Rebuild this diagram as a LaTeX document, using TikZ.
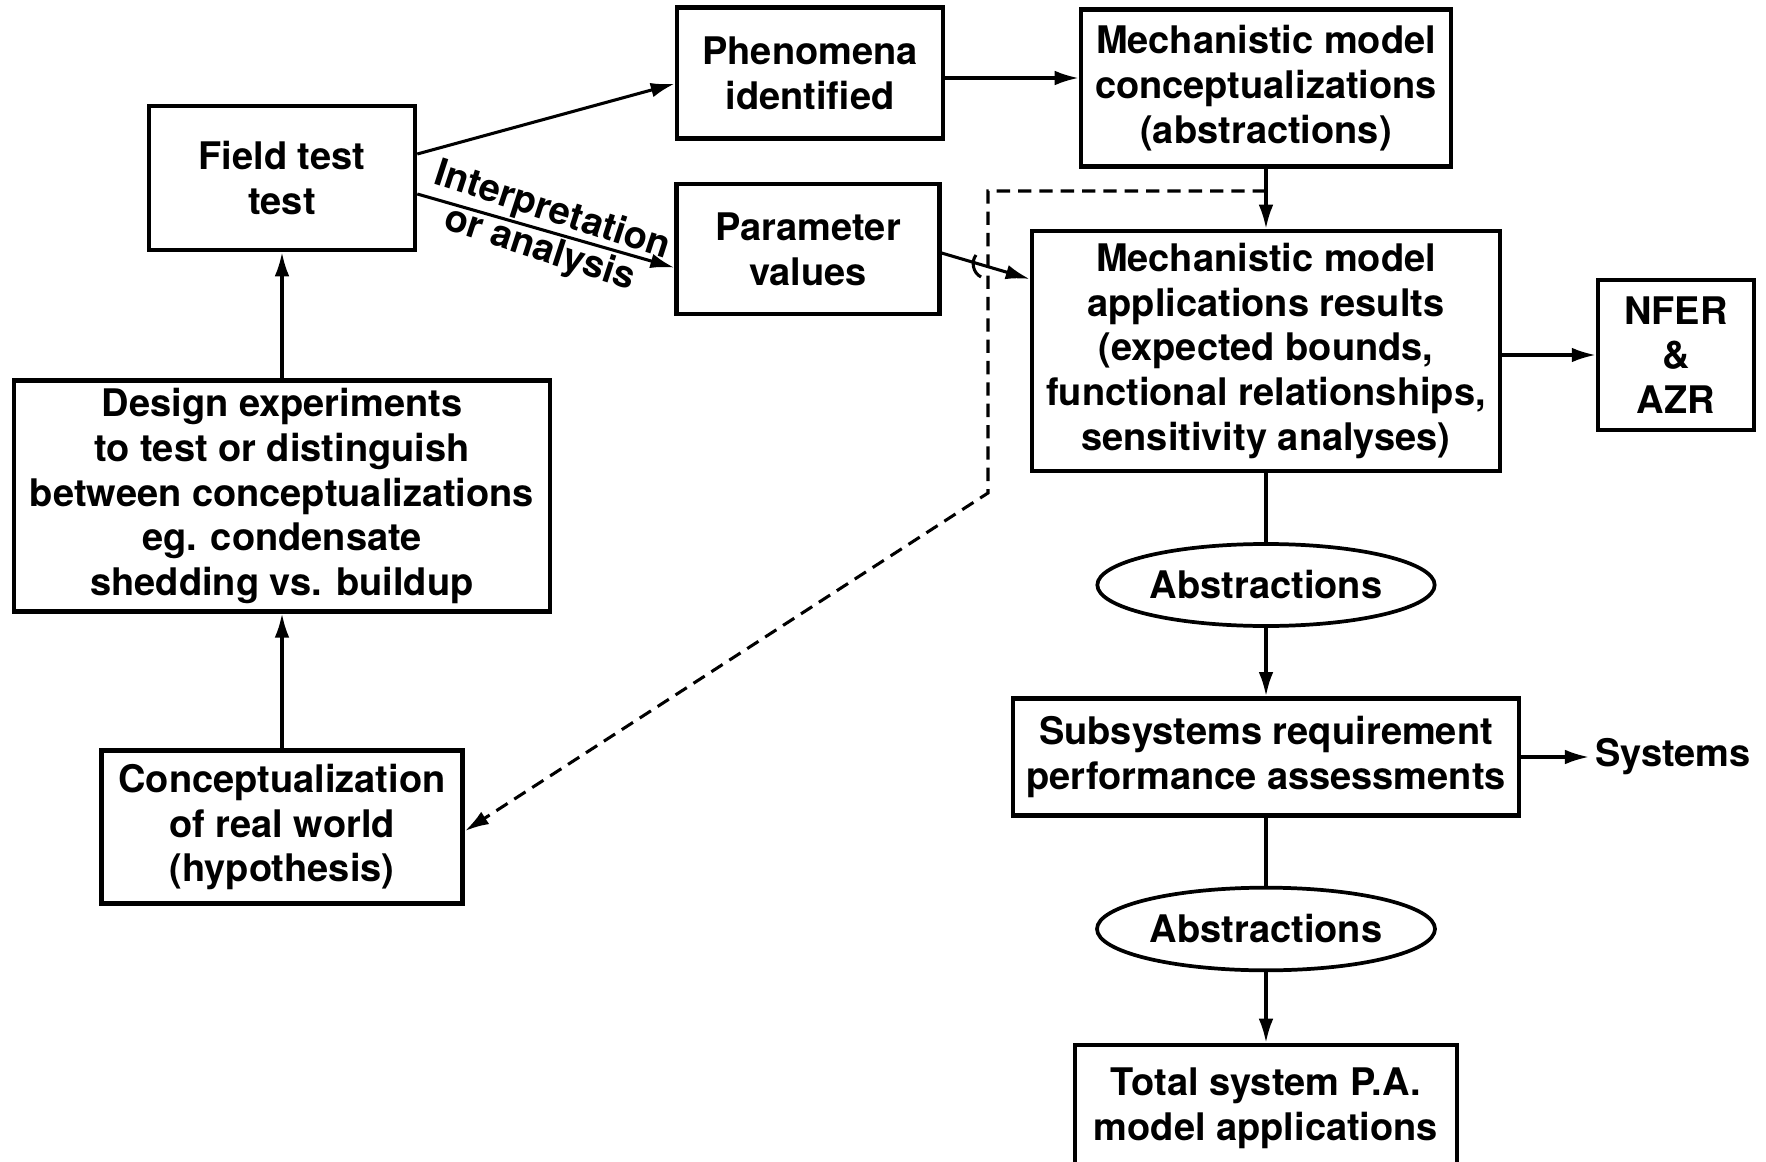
\documentclass[tikz,border=0pt]{standalone}
\usepackage{fontspec}
\setmainfont{TeX Gyre Heros}
\usetikzlibrary{arrows.meta,shapes.geometric}

\begin{document}
\begin{tikzpicture}[x=0.75pt,y=0.75pt,yscale=-1,xscale=1,
  font=\bfseries\fontsize{28.5}{33.5}\selectfont,
  blk/.style={draw, line width=3.4pt, align=center, inner sep=2pt},
  oval/.style={draw, ellipse, line width=2.8pt, inner sep=0pt},
  conn/.style={line width=2.3pt, -{Latex[length=18pt,width=11pt]}},
  plain/.style={line width=2.3pt},
  dashline/.style={line width=2.3pt, dash pattern=on 10pt off 6pt, -{Latex[length=18pt,width=11pt]}}]
\useasboundingbox (0,0) rectangle (1766,1162);

% Left column
\node (ft) at (282,178) [blk, minimum width=199.5pt, minimum height=108pt] {Field test\\test};
\node (design) at (282,496) [blk, minimum width=402pt, minimum height=173pt] {Design experiments\\to test or distinguish\\between conceptualizations\\eg. condensate\\shedding vs. buildup};
\node (concept) at (282,827) [blk, minimum width=271pt, minimum height=115pt] {Conceptualization\\of real world\\(hypothesis)};

% Middle column
\node (phen) at (810,73) [blk, minimum width=199.5pt, minimum height=98pt] {Phenomena\\identified};
\node (param) at (808,249) [blk, minimum width=197pt, minimum height=97.5pt] {Parameter\\values};

% Right column
\node (mconc) at (1266,88) [blk, minimum width=277.5pt, minimum height=118pt] {Mechanistic model\\conceptualizations\\(abstractions)};
\node (mapp) at (1266,351) [blk, minimum width=351pt, minimum height=180pt] {Mechanistic model\\applications results\\(expected bounds,\\functional relationships,\\sensitivity analyses)};
\node (nfer) at (1676,355) [blk, minimum width=117pt, minimum height=112.5pt] {NFER\\\&\\AZR};
\node (abs1) at (1266,585) [oval, minimum width=253pt, minimum height=61.5pt] {Abstractions};
\node (subsys) at (1266,757) [blk, minimum width=379.5pt, minimum height=88pt] {Subsystems requirement\\performance assessments};
\node (sys) at (1673,757) [inner sep=4.5pt] {Systems};
\node (abs2) at (1266,929) [oval, minimum width=253.5pt, minimum height=62pt] {Abstractions};
\node (total) at (1266,1108) [blk, minimum width=286.5pt, minimum height=94.5pt] {Total system P.A.\\model applications};

% Connectors (yshift runs downward here, since yscale=-1)
\draw[conn] ([yshift=-18pt]ft.east) -- ([yshift=8pt]phen.west);
\draw[conn] ([yshift=12pt]ft.east) -- node[rotate=-18, align=center, font=\bfseries\fontsize{28.5}{30}\selectfont] {Interpretation\\or analysis} ([yshift=14pt]param.west);
\draw[conn] ([yshift=3.75pt]phen.east) -- ([yshift=-7.5pt]mconc.west);
\draw[conn] (mconc.south) -- (mapp.north);
\draw[conn] ([yshift=3pt]param.east) -- ([yshift=-54pt]mapp.west);
\draw[conn] ([yshift=3pt]mapp.east) -- (nfer.west);
\draw[plain] (mapp.south) -- (abs1.north);
\draw[conn] (abs1.south) -- (subsys.north);
\draw[plain] (subsys.south) -- (abs2.north);
\draw[conn] (abs2.south) -- (total.north);
\draw[conn] (subsys.east) -- (sys.west);
\draw[conn] (concept.north) -- (design.south);
\draw[conn] (design.north) -- (ft.south);

% Feedback path (dashed)
\coordinate (dtop) at (1266,191);
\coordinate (dturn) at (988,191);
\coordinate (dbend) at (988,493);
\draw[dashline] (dtop) -- (dturn) -- (dbend) -- ([yshift=3pt]concept.east);

% crossing mark
\coordinate (hop) at (979,266);
\draw[plain] ([shift={(-3,-11)}]hop) to[bend left=50] ([shift={(2,11)}]hop);

\end{tikzpicture}
\end{document}
